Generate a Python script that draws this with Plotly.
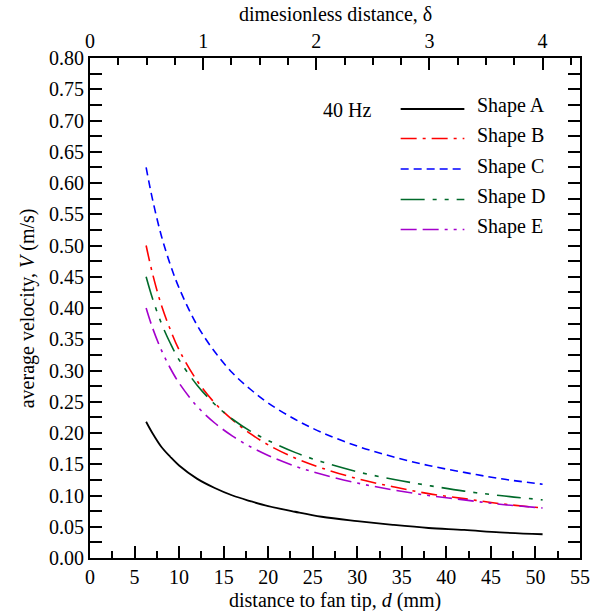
import plotly.graph_objects as go

# ---- data ----
distance_mm = [6.3, 7, 8, 9, 10, 12, 14, 16, 18, 20, 23, 26, 30, 34, 38, 42, 46, 50.8]
shape_a = [0.218, 0.200, 0.178, 0.162, 0.148, 0.127, 0.112, 0.100, 0.091, 0.083, 0.074, 0.066, 0.059, 0.053, 0.048, 0.045, 0.041, 0.038]
shape_b = [0.500, 0.456, 0.405, 0.366, 0.333, 0.284, 0.248, 0.221, 0.199, 0.181, 0.160, 0.144, 0.127, 0.114, 0.103, 0.095, 0.087, 0.080]
shape_c = [0.625, 0.575, 0.516, 0.470, 0.432, 0.373, 0.330, 0.296, 0.270, 0.248, 0.222, 0.201, 0.179, 0.162, 0.148, 0.137, 0.127, 0.118]
shape_d = [0.450, 0.416, 0.376, 0.344, 0.317, 0.277, 0.246, 0.222, 0.203, 0.188, 0.169, 0.154, 0.138, 0.126, 0.116, 0.107, 0.100, 0.093]
shape_e = [0.400, 0.369, 0.333, 0.304, 0.280, 0.243, 0.216, 0.195, 0.178, 0.164, 0.147, 0.134, 0.120, 0.109, 0.100, 0.093, 0.086, 0.080]
series_names = ["Shape A", "Shape B", "Shape C", "Shape D", "Shape E"]
mm_per_delta = 12.7
x_range = [0, 55]
y_range = [0, 0.80]
delta_ticks = [0, 1, 2, 3, 4]

# ---- styles ----
FONT = "Liberation Serif"
colors = ["#000000", "#ff0000", "#0000ff", "#006a2a", "#a400cc"]
dashes = ["solid", "16px,6px,3px,6px", "8px,5px", "24px,8px,4px,8px,4px,8px",
          "16px,6px,16px,6px,3px,6px,3px,6px"]
widths = [1.8, 1.6, 1.6, 1.6, 1.6]
series = [shape_a, shape_b, shape_c, shape_d, shape_e]

fig = go.Figure()
for name, vals, c, d, w in zip(series_names, series, colors, dashes, widths):
    fig.add_trace(go.Scatter(x=distance_mm, y=vals, mode="lines", name=name,
                             line=dict(color=c, dash=d, width=w, shape="spline", smoothing=1.0),
                             showlegend=False, hoverinfo="skip"))

# invisible trace to carry the top (dimensionless) axis
fig.add_trace(go.Scatter(x=[v / mm_per_delta for v in distance_mm], y=shape_a,
                         mode="lines", line=dict(width=0, color="rgba(0,0,0,0)"),
                         xaxis="x2", yaxis="y", showlegend=False, hoverinfo="skip"))

axis_common = dict(showgrid=False, zeroline=False, showline=True, linecolor="black",
                   linewidth=2, ticks="inside", tickcolor="black", tickwidth=1.5,
                   ticklen=12, tickfont=dict(family=FONT, size=20, color="black"))

fig.update_layout(
    width=601, height=611,
    margin=dict(l=90, r=11, t=58, b=53),
    paper_bgcolor="white", plot_bgcolor="white",
    font=dict(family=FONT, size=20, color="black"),
    xaxis=dict(range=x_range, dtick=5, tick0=0, mirror=True,
               minor=dict(dtick=2.5, ticklen=7, ticks="inside", tickcolor="black", tickwidth=1.5),
               **axis_common),
    xaxis2=dict(range=[x_range[0] / mm_per_delta, x_range[1] / mm_per_delta],
                overlaying="x", side="top", anchor="y", tickvals=delta_ticks,
                minor=dict(dtick=0.25, tick0=0, ticklen=7, ticks="inside", tickcolor="black", tickwidth=1.5),
                **axis_common),
    yaxis=dict(range=y_range, dtick=0.05, tick0=0, tickformat=".2f", mirror="allticks",
               minor=dict(dtick=0.025, ticklen=7, ticks="inside", tickcolor="black", tickwidth=1.5),
               **axis_common),
)

# axis titles
fig.add_annotation(text="distance to fan tip, <i>d</i> (mm)", xref="paper", yref="paper",
                   x=0.5, y=-0.084, xanchor="center", yanchor="middle", showarrow=False,
                   font=dict(family=FONT, size=20, color="black"))
fig.add_annotation(text="dimesionless distance, δ", xref="paper", yref="paper",
                   x=0.5, y=1.088, xanchor="center", yanchor="middle", showarrow=False,
                   font=dict(family=FONT, size=20, color="black"))
fig.add_annotation(text="average velocity, <i>V</i> (m/s)", xref="paper", yref="paper",
                   x=-0.128, y=0.5, xanchor="center", yanchor="middle", showarrow=False,
                   textangle=-90, font=dict(family=FONT, size=20, color="black"))

# legend (drawn manually)
fig.add_annotation(text="40 Hz", xref="paper", yref="paper", x=0.472, y=0.896,
                   xanchor="left", yanchor="middle", showarrow=False,
                   font=dict(family=FONT, size=20, color="black"))
row_y = [0.904, 0.845, 0.784, 0.723, 0.663]
for name, c, d, w, yy in zip(series_names, colors, dashes, widths, row_y):
    fig.add_shape(type="line", xref="paper", yref="paper", x0=0.634, x1=0.764,
                  y0=yy - 0.006, y1=yy - 0.006, line=dict(color=c, dash=d, width=w))
    fig.add_annotation(text=name, xref="paper", yref="paper", x=0.786, y=yy,
                       xanchor="left", yanchor="middle", showarrow=False,
                       font=dict(family=FONT, size=20, color="black"))

fig.write_html("out.html")
